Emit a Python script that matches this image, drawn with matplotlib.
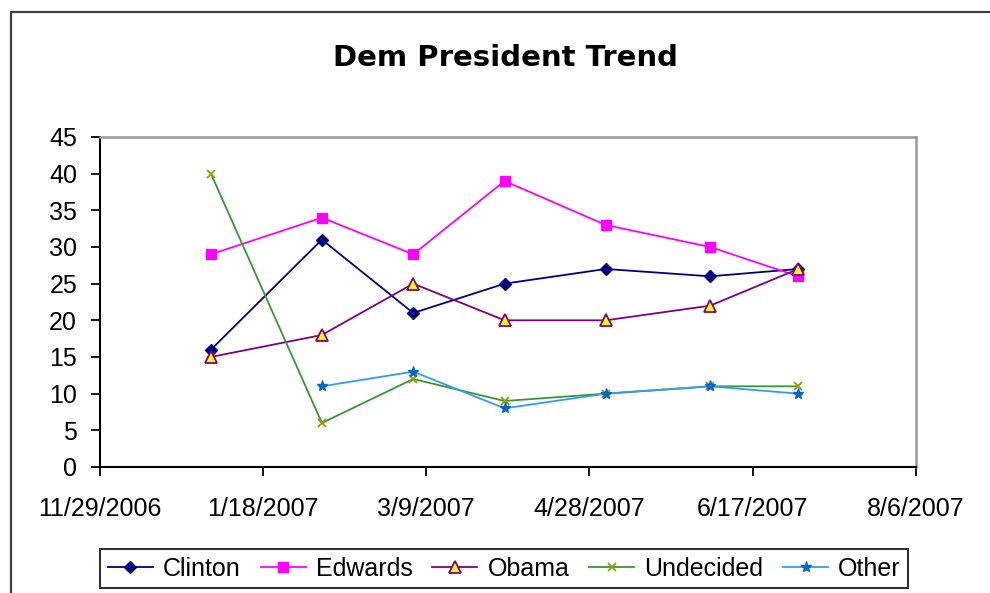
import matplotlib
matplotlib.use("Agg")
import matplotlib.pyplot as plt
from matplotlib.lines import Line2D
import numpy as np
import datetime as dt

dates = ["2007-01-02", "2007-02-05", "2007-03-05", "2007-04-02",
         "2007-05-03", "2007-06-04", "2007-07-01"]
clinton = [16, 31, 21, 25, 27, 26, 27]
edwards = [29, 34, 29, 39, 33, 30, 26]
obama = [15, 18, 25, 20, 20, 22, 27]
undecided = [40, 6, 12, 9, 10, 11, 11]
other = [np.nan, 11, 13, 8, 10, 11, 10]

tick_dates = ["2006-11-29", "2007-01-18", "2007-03-09", "2007-04-28",
              "2007-06-17", "2007-08-06"]
tick_labels = ["11/29/2006", "1/18/2007", "3/9/2007", "4/28/2007",
               "6/17/2007", "8/6/2007"]

plt.rcParams['font.family'] = ['Liberation Sans', 'DejaVu Sans']

x = [dt.datetime.strptime(d, "%Y-%m-%d") for d in dates]
xt = [dt.datetime.strptime(d, "%Y-%m-%d") for d in tick_dates]

fig = plt.figure(figsize=(9.9, 5.93), dpi=100)
ax = fig.add_axes([0.101, 0.2125, 0.824, 0.5565])

lw = 1.3
ax.plot(x, clinton, color='#000080', lw=lw, marker='D', ms=6,
        mfc='#000080', mec='#000080', label='Clinton')
ax.plot(x, edwards, color='#FF00FF', lw=lw, marker='s', ms=7,
        mfc='#FF00FF', mec='#FF00FF', label='Edwards')
ax.plot(x, obama, color='#800080', lw=lw, marker='^', ms=8,
        mfc='#FFFF00', mec='#800080', mew=1.3, label='Obama')
ax.plot(x, undecided, color='#339933', lw=lw, marker='x', ms=6,
        mec='#999900', mew=1.3, label='Undecided')
ax.plot(x, other, color='#3399FF', lw=lw, marker='*', ms=8,
        mfc='#0066CC', mec='#0066CC', label='Other')

ax.set_xlim(xt[0], xt[-1])
ax.set_ylim(0, 45)
ax.set_yticks(np.arange(0, 46, 5))
ax.set_xticks(xt)
ax.set_xticklabels(tick_labels)

ax.tick_params(axis='both', direction='out', length=6.5, width=1.3,
               labelsize=18, colors='black')
ax.tick_params(axis='x', pad=15)
ax.tick_params(axis='y', pad=10)

for s in ['left', 'bottom']:
    ax.spines[s].set_color('black')
    ax.spines[s].set_linewidth(1.5)
for s in ['top', 'right']:
    ax.spines[s].set_color('#999999')
    ax.spines[s].set_linewidth(1.8)

fig.text(0.511, 0.903, "Dem President Trend", ha='center', va='center',
         fontsize=21, fontweight='bold', family=['DejaVu Sans'])

leg = fig.legend(loc='center', bbox_to_anchor=(0.5095, 0.041), ncol=5,
                 fontsize=18, frameon=True, fancybox=False,
                 handlelength=1.8, handletextpad=0.4, columnspacing=0.8,
                 borderpad=0.3, borderaxespad=0)
leg.get_frame().set_edgecolor('black')
leg.get_frame().set_linewidth(1.5)

# outer chart border (left and top edges visible)
fx = 10.5 / 990
fy = 1 - 11.5 / 593
fig.add_artist(Line2D([fx, fx, 1.0], [0.0, fy, fy], transform=fig.transFigure,
                      color='#404040', lw=1.6))

fig.savefig("out.png", dpi=100)
